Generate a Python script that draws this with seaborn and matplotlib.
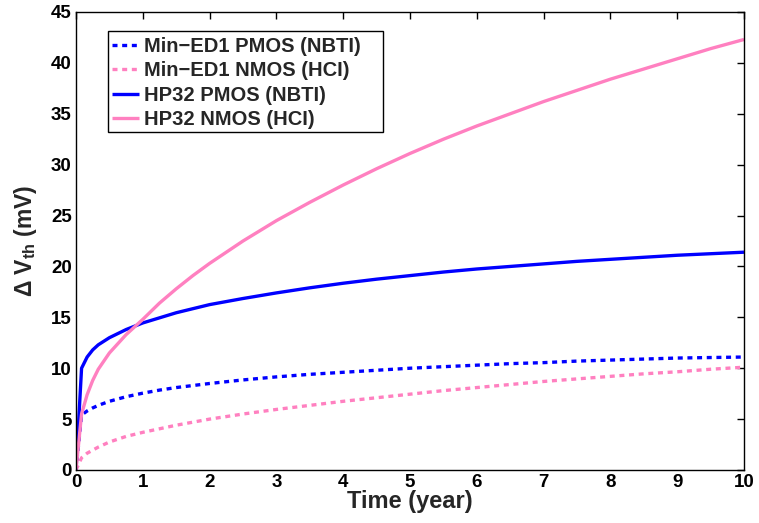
import numpy as np
import pandas as pd
import matplotlib
matplotlib.use("Agg")
import matplotlib.pyplot as plt
from matplotlib.patches import Rectangle
import seaborn as sns

# Time axis (years) and threshold-voltage shift (mV) for each device
time_year = [0, 1/12, 1/6, 0.25, 1/3, 0.5, 0.75, 1, 1.25, 1.5, 1.75, 2, 2.5, 3, 3.5,
             4, 4.5, 5, 5.5, 6, 6.5, 7, 7.5, 8, 8.5, 9, 9.5, 10]
min_ed1_pmos_nbti = [0, 5.4, 5.8, 6.1, 6.35, 6.75, 7.2, 7.55, 7.85, 8.1, 8.3, 8.5, 8.85, 9.15, 9.4,
                     9.6, 9.8, 10.0, 10.15, 10.3, 10.45, 10.55, 10.7, 10.8, 10.9, 11.0, 11.05, 11.1]
min_ed1_nmos_hci = [0, 1.2, 1.65, 1.95, 2.25, 2.75, 3.3, 3.7, 4.05, 4.4, 4.7, 5.0, 5.5, 5.95, 6.35,
                    6.75, 7.1, 7.45, 7.8, 8.1, 8.4, 8.7, 8.95, 9.2, 9.45, 9.65, 9.9, 10.1]
hp32_pmos_nbti = [0, 10.0, 11.1, 11.8, 12.3, 13.0, 13.8, 14.45, 14.95, 15.45, 15.85, 16.25, 16.85, 17.4, 17.9,
                  18.35, 18.75, 19.1, 19.45, 19.75, 20.0, 20.25, 20.5, 20.7, 20.9, 21.1, 21.25, 21.4]
hp32_nmos_hci = [0, 5.5, 7.4, 8.8, 9.9, 11.5, 13.3, 14.8, 16.4, 17.8, 19.1, 20.3, 22.5, 24.5, 26.3,
                 28.0, 29.6, 31.1, 32.5, 33.8, 35.0, 36.2, 37.3, 38.4, 39.4, 40.4, 41.4, 42.3]

series_labels = ["Min\u2212ED1 PMOS (NBTI)", "Min\u2212ED1 NMOS (HCI)",
                 "HP32 PMOS (NBTI)", "HP32 NMOS (HCI)"]
x_ticks = list(range(0, 11))
y_ticks = list(range(0, 46, 5))

BLUE = "#0000ff"
PINK = "#ff80c0"

sns.set_style("white")
plt.rcParams["font.family"] = ["Liberation Sans", "DejaVu Sans"]
plt.rcParams["font.weight"] = "bold"
plt.rcParams["mathtext.fontset"] = "custom"
plt.rcParams["mathtext.rm"] = "Liberation Sans"
plt.rcParams["mathtext.bf"] = "Liberation Sans:bold"

W, H = 759, 523
fig = plt.figure(figsize=(W / 100, H / 100), dpi=100)
ax_l, ax_b, ax_w, ax_h = 76, 53, 668, 458
ax = fig.add_axes([ax_l / W, ax_b / H, ax_w / W, ax_h / H])

frames = []
for label, vals in zip(series_labels,
                       [min_ed1_pmos_nbti, min_ed1_nmos_hci, hp32_pmos_nbti, hp32_nmos_hci]):
    frames.append(pd.DataFrame({"Time": time_year, "dVth": vals, "Series": label}))
df = pd.concat(frames, ignore_index=True)

styles = {
    series_labels[0]: dict(color=BLUE, dashes=(1.5, 1.4)),
    series_labels[1]: dict(color=PINK, dashes=(1.5, 1.4)),
    series_labels[2]: dict(color=BLUE, dashes=None),
    series_labels[3]: dict(color=PINK, dashes=None),
}

for label in series_labels:
    sub = df[df["Series"] == label]
    st = styles[label]
    sns.lineplot(data=sub, x="Time", y="dVth", ax=ax, color=st["color"],
                 linewidth=2.4, label=label, estimator=None, sort=False)
    ln = ax.get_lines()[-1]
    ln.set_solid_capstyle("butt")
    ln.set_solid_joinstyle("round")
    if st["dashes"] is not None:
        ln.set_dashes(st["dashes"])
        ln.set_dash_capstyle("butt")

ax.set_xlim(0, 10)
ax.set_ylim(0, 45)
ax.set_xticks(x_ticks)
ax.set_yticks(y_ticks)
ax.tick_params(direction="in", length=5, width=1, top=True, right=True,
               labelsize=13.5, pad=3, colors="black")
for lbl in ax.get_xticklabels() + ax.get_yticklabels():
    lbl.set_fontweight("bold")
for sp in ax.spines.values():
    sp.set_visible(True)
    sp.set_color("black")
    sp.set_linewidth(1.0)

ax.set_xlabel("Time (year)", fontsize=17, fontweight="bold", labelpad=-1)
ax.set_ylabel(r"$\Delta$ V$_{\mathbf{th}}$ (mV)", fontsize=16.5, fontweight="bold", labelpad=9)


def px_to_axes(x_px, y_px_top):
    """Convert figure pixel position (origin top-left) to axes fraction."""
    return (x_px - ax_l) / ax_w, ((H - y_px_top) - ax_b) / ax_h


# Legend box
bx0, by0 = px_to_axes(108, 132)
bx1, by1 = px_to_axes(383, 31)
ax.add_patch(Rectangle((bx0, by0), bx1 - bx0, by1 - by0, transform=ax.transAxes,
                       facecolor="white", edgecolor="black", linewidth=1.0, zorder=5))

lx, ly = px_to_axes(110, 35)
leg = ax.legend(loc="upper left", bbox_to_anchor=(lx, ly),
                fontsize=14.5, frameon=False, handlelength=1.35, handletextpad=0.25,
                labelspacing=0.27, borderpad=0.1, borderaxespad=0)
leg.set_zorder(6)
for t in leg.get_texts():
    t.set_fontweight("bold")

fig.savefig("out.png", dpi=100, facecolor="white")
